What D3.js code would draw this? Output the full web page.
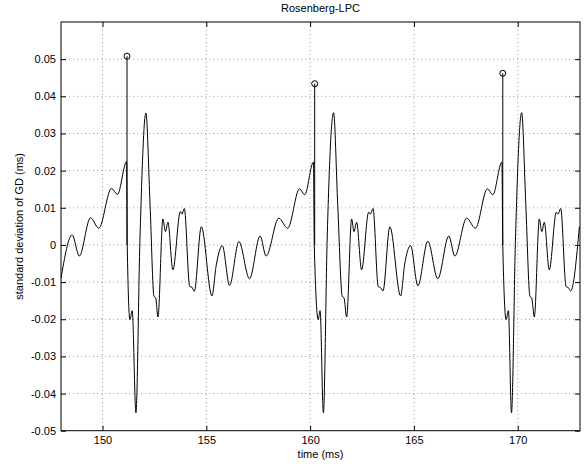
<!doctype html>
<html lang="en">
<head>
<meta charset="UTF-8">
<title>Rosenberg-LPC</title>
<script src="https://d3js.org/d3.v7.min.js"></script>
<style>
    body { margin: 0; background: white; }
    svg { display: block; }
    text { font-family: "Liberation Sans", Arial, Helvetica, sans-serif; font-size: 11px; fill: black; }
    .grid line { stroke: #888; stroke-width: 0.8; stroke-dasharray: 1, 3; }
    .curve { fill: none; stroke: black; stroke-width: 1; }
    .stem { stroke: black; stroke-width: 1; }
    .marker { fill: none; stroke: black; stroke-width: 1; }
</style>
</head>
<body>
<svg width="586" height="464"></svg>
<script>
    // time (ms) and standard deviation of GD (ms)
    const times = [
        148.00, 148.54, 148.88, 149.42, 149.82, 150.43, 150.72, 151.16, 151.19, 151.32,
        151.43, 151.61, 151.80, 152.09, 152.29, 152.48, 152.56, 152.67, 152.91, 153.03,
        153.15, 153.39, 153.75, 153.83, 153.94, 154.20, 154.31, 154.42, 154.76, 155.27,
        155.48, 155.77, 156.12, 156.57, 157.08, 157.59, 157.88, 158.49, 158.92, 159.49,
        159.74, 160.16, 160.20, 160.39, 160.48, 160.64, 160.82, 161.13, 161.33, 161.55,
        161.63, 161.76, 162.00, 162.11, 162.24, 162.48, 162.82, 162.90, 163.03, 163.28,
        163.39, 163.51, 163.84, 164.36, 164.55, 164.84, 165.19, 165.67, 166.15, 166.68,
        166.97, 167.54, 167.96, 168.54, 168.80, 169.24, 169.28, 169.44, 169.55, 169.70,
        169.89, 170.19, 170.39, 170.59, 170.67, 170.80, 171.04, 171.16, 171.28, 171.52,
        171.86, 171.94, 172.07, 172.33, 172.44, 172.55, 172.97
    ];
    const values = [
        -0.0090, 0.0027, -0.0030, 0.0073, 0.0045, 0.0152, 0.0136, 0.0224, 0.0000, -0.0201,
        -0.0177, -0.0452, 0.0009, 0.0355, 0.0108, -0.0139, -0.0142, -0.0194, 0.0070, 0.0036,
        0.0061, -0.0067, 0.0090, 0.0083, 0.0098, -0.0112, -0.0114, -0.0125, 0.0049, -0.0137,
        -0.0054, -0.0002, -0.0109, 0.0009, -0.0091, 0.0024, -0.0030, 0.0072, 0.0045, 0.0151,
        0.0135, 0.0223, 0.0000, -0.0201, -0.0177, -0.0452, 0.0013, 0.0356, 0.0108, -0.0139,
        -0.0142, -0.0194, 0.0070, 0.0036, 0.0061, -0.0067, 0.0088, 0.0083, 0.0098, -0.0112,
        -0.0115, -0.0124, 0.0049, -0.0137, -0.0054, -0.0002, -0.0110, 0.0010, -0.0091, 0.0024,
        -0.0030, 0.0072, 0.0045, 0.0151, 0.0135, 0.0223, 0.0000, -0.0201, -0.0177, -0.0452,
        0.0013, 0.0356, 0.0108, -0.0139, -0.0142, -0.0194, 0.0070, 0.0036, 0.0061, -0.0067,
        0.0088, 0.0083, 0.0098, -0.0112, -0.0115, -0.0124, 0.0049
    ];

    // stems with open circles
    const stemTimes = [151.18, 160.22, 169.28];
    const stemValues = [0.0508, 0.0434, 0.0462];

    const xTicks = [150, 155, 160, 165, 170];
    const yTicks = [-0.05, -0.04, -0.03, -0.02, -0.01, 0, 0.01, 0.02, 0.03, 0.04, 0.05];

    const svg = d3.select('svg');

    const margin = { left: 61, right: 580, top: 22, bottom: 430.7 };
    const width = margin.right - margin.left;
    const height = margin.bottom - margin.top;

    const chart = svg.append('g')
        .attr('transform', `translate(${margin.left}, ${margin.top})`);

    const xScale = d3.scaleLinear()
        .domain([148, 173])
        .range([0, width]);

    const yScale = d3.scaleLinear()
        .domain([-0.05, 0.06])
        .range([height, 0]);

    // dotted grid
    const grid = chart.append('g').attr('class', 'grid');
    grid.selectAll('.gx')
        .data(xTicks)
        .enter()
        .append('line')
        .attr('x1', (d) => xScale(d))
        .attr('x2', (d) => xScale(d))
        .attr('y1', 0)
        .attr('y2', height);
    grid.selectAll('.gy')
        .data(yTicks.filter((d) => d > -0.05))
        .enter()
        .append('line')
        .attr('x1', 0)
        .attr('x2', width)
        .attr('y1', (d) => yScale(d))
        .attr('y2', (d) => yScale(d));

    chart.append('clipPath')
        .attr('id', 'clip')
        .append('rect')
        .attr('width', width)
        .attr('height', height);

    const line = d3.line()
        .x((d, i) => xScale(times[i]))
        .y((d) => yScale(d))
        .curve(d3.curveMonotoneX);

    chart.append('path')
        .attr('class', 'curve')
        .attr('clip-path', 'url(#clip)')
        .attr('d', line(values));

    chart.selectAll('.stem')
        .data(stemValues)
        .enter()
        .append('line')
        .attr('class', 'stem')
        .attr('x1', (d, i) => xScale(stemTimes[i]))
        .attr('x2', (d, i) => xScale(stemTimes[i]))
        .attr('y1', yScale(0))
        .attr('y2', (d) => yScale(d));

    chart.selectAll('.marker')
        .data(stemValues)
        .enter()
        .append('circle')
        .attr('class', 'marker')
        .attr('cx', (d, i) => xScale(stemTimes[i]))
        .attr('cy', (d) => yScale(d))
        .attr('r', 3);

    // axes with inward ticks
    const fmt = (d) => (d === 0 ? '0' : d.toFixed(2));

    const xAxis = chart.append('g')
        .attr('transform', `translate(0, ${height})`)
        .call(d3.axisBottom(xScale).tickValues(xTicks).tickSize(-5).tickPadding(6));
    const yAxis = chart.append('g')
        .call(d3.axisLeft(yScale).tickValues(yTicks).tickFormat(fmt).tickSize(-5).tickPadding(5));
    const topAxis = chart.append('g')
        .call(d3.axisTop(xScale).tickValues(xTicks).tickSize(-5).tickFormat(''));
    const rightAxis = chart.append('g')
        .attr('transform', `translate(${width}, 0)`)
        .call(d3.axisRight(yScale).tickValues(yTicks).tickSize(-5).tickFormat(''));

    [xAxis, yAxis, topAxis, rightAxis].forEach((a) => {
        a.select('.domain').remove();
        a.attr('font-size', null).attr('font-family', null);
        a.selectAll('line').attr('stroke', 'black');
    });

    chart.append('rect')
        .attr('width', width)
        .attr('height', height)
        .attr('fill', 'none')
        .attr('stroke', 'black')
        .attr('stroke-width', 1);

    // labels
    svg.append('text')
        .attr('x', margin.left + width / 2)
        .attr('y', 12)
        .attr('text-anchor', 'middle')
        .text('Rosenberg-LPC');

    svg.append('text')
        .attr('x', margin.left + width / 2)
        .attr('y', 458)
        .attr('text-anchor', 'middle')
        .text('time (ms)');

    svg.append('text')
        .attr('transform', `translate(23, ${margin.top + height / 2}) rotate(-90)`)
        .attr('text-anchor', 'middle')
        .text('standard deviation of GD (ms)');
</script>
</body>
</html>
